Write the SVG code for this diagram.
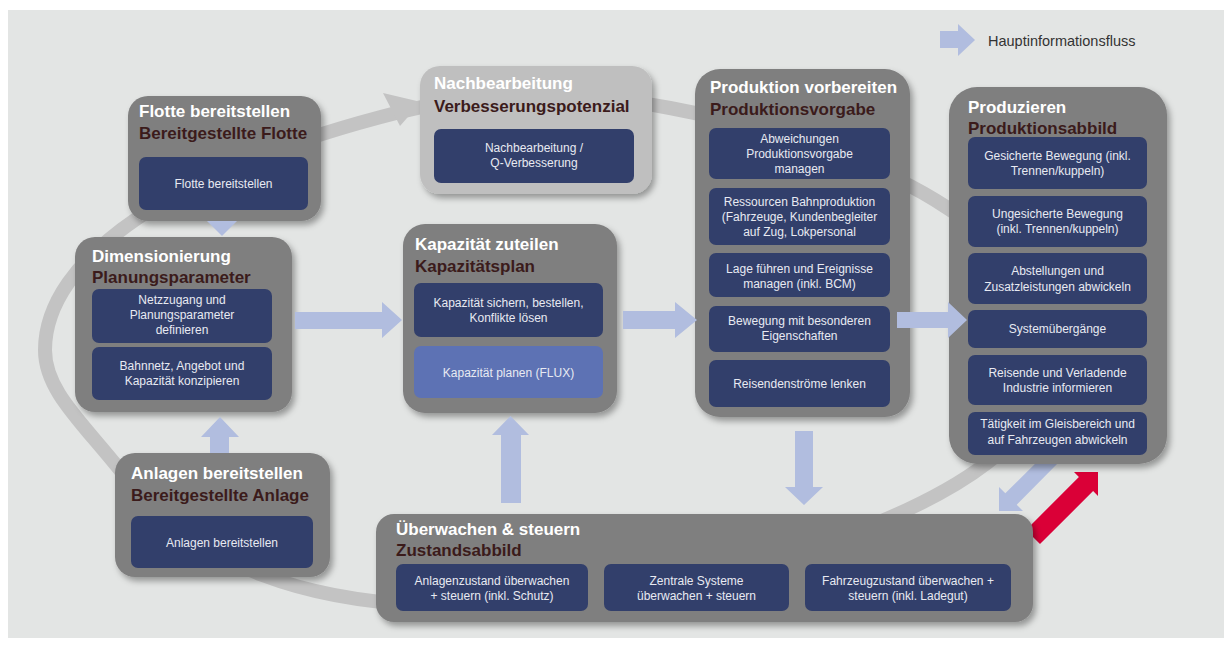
<svg xmlns="http://www.w3.org/2000/svg" width="1230" height="646" viewBox="0 0 1230 646">
<defs>
<filter id="sh" x="-10%" y="-10%" width="125%" height="130%">
<feDropShadow dx="3" dy="4" stdDeviation="3" flood-color="#000" flood-opacity="0.35"/>
</filter>
<style>
.ob{fill:#7f7f7f;filter:url(#sh)}
.lb{fill:#bfbfbf;filter:url(#sh)}
.ib{fill:#323f6b}
.ib2{fill:#5d72b4}
.h1{font-family:"Liberation Sans",Arial,sans-serif;font-weight:bold;font-size:17px;fill:#ffffff}
.h2{font-family:"Liberation Sans",Arial,sans-serif;font-weight:bold;font-size:17px;fill:#3b1b1b}
.t{font-family:"Liberation Sans",Arial,sans-serif;font-size:12px;fill:#e8eaf2;text-anchor:middle}
.la{fill:#b1bddf}
.ring{fill:none;stroke:#c3c3c3;stroke-width:14}
</style>
</defs>
<rect x="8" y="10" width="1216" height="628" fill="#e3e5e4"/>

<g id="connectors">
<path class="ring" d="M45,350 C45,260 170,170 400,112 C515,83 600,95 670,108 C760,125 870,160 935,200 C1060,275 1070,400 987,463 C880,545 620,615 420,605 C320,600 200,575 120,470 C80,420 45,390 45,350 Z"/>
<polygon points="383,93 421,102 400,126" fill="#c3c3c3"/>
<polygon class="la" points="999,511 999,487 1005.3,493.3 1048,451 1059,462 1016.7,504.7 1023,511"/>
<polygon fill="#da0037" points="1098,472 1074,472 1078.9,476.9 1026,530 1040,544 1093.1,491.1 1098,496"/>
</g>

<g id="flotte">
<rect class="ob" x="128" y="96" width="193" height="125" rx="20"/>
<text class="h1" x="139" y="117">Flotte bereitstellen</text>
<text class="h2" x="139" y="139">Bereitgestellte Flotte</text>
<rect class="ib" x="139" y="157" width="169" height="53" rx="7"/>
<text class="t" x="223.5" y="188">Flotte bereitstellen</text>
</g>

<g id="nachbearbeitung">
<rect class="lb" x="420" y="66" width="232" height="128" rx="20"/>
<text class="h1" x="434" y="89">Nachbearbeitung</text>
<text class="h2" x="434" y="112">Verbesserungspotenzial</text>
<rect class="ib" x="434" y="129" width="200" height="54" rx="7"/>
<text class="t" x="534" y="152">Nachbearbeitung  /</text>
<text class="t" x="534" y="167">Q-Verbesserung</text>
</g>

<g id="produktion-vorbereiten">
<rect class="ob" x="695" y="69" width="215" height="348" rx="25"/>
<text class="h1" x="710" y="93">Produktion vorbereiten</text>
<text class="h2" x="710" y="115">Produktionsvorgabe</text>
<rect class="ib" x="709" y="128" width="181" height="51" rx="7"/>
<text class="t" x="799.5" y="143">Abweichungen</text>
<text class="t" x="799.5" y="158">Produktionsvorgabe</text>
<text class="t" x="799.5" y="173">managen</text>
<rect class="ib" x="709" y="188" width="181" height="57" rx="7"/>
<text class="t" x="799.5" y="206">Ressourcen Bahnproduktion</text>
<text class="t" x="799.5" y="221">(Fahrzeuge, Kundenbegleiter</text>
<text class="t" x="799.5" y="236">auf Zug, Lokpersonal</text>
<rect class="ib" x="709" y="253" width="181" height="44" rx="7"/>
<text class="t" x="799.5" y="273">Lage führen und Ereignisse</text>
<text class="t" x="799.5" y="288">managen (inkl. BCM)</text>
<rect class="ib" x="709" y="306" width="181" height="46" rx="7"/>
<text class="t" x="799.5" y="325">Bewegung mit besonderen</text>
<text class="t" x="799.5" y="340">Eigenschaften</text>
<rect class="ib" x="709" y="360" width="181" height="47" rx="7"/>
<text class="t" x="799.5" y="388">Reisendenströme lenken</text>
</g>

<g id="produzieren">
<rect class="ob" x="949" y="87" width="218" height="377" rx="28"/>
<text class="h1" x="968" y="113">Produzieren</text>
<text class="h2" x="968" y="134">Produktionsabbild</text>
<rect class="ib" x="968" y="137" width="179" height="52" rx="7"/>
<text class="t" x="1057.5" y="160">Gesicherte Bewegung (inkl.</text>
<text class="t" x="1057.5" y="175">Trennen/kuppeln)</text>
<rect class="ib" x="968" y="196" width="179" height="51" rx="7"/>
<text class="t" x="1057.5" y="218">Ungesicherte Bewegung</text>
<text class="t" x="1057.5" y="233">(inkl. Trennen/kuppeln)</text>
<rect class="ib" x="968" y="253" width="179" height="51" rx="7"/>
<text class="t" x="1057.5" y="275">Abstellungen und</text>
<text class="t" x="1057.5" y="291">Zusatzleistungen abwickeln</text>
<rect class="ib" x="968" y="310" width="179" height="38" rx="7"/>
<text class="t" x="1057.5" y="333">Systemübergänge</text>
<rect class="ib" x="968" y="355" width="179" height="50" rx="7"/>
<text class="t" x="1057.5" y="377">Reisende und Verladende</text>
<text class="t" x="1057.5" y="392">Industrie informieren</text>
<rect class="ib" x="968" y="412" width="179" height="43" rx="7"/>
<text class="t" x="1057.5" y="428">Tätigkeit im Gleisbereich und</text>
<text class="t" x="1057.5" y="444">auf Fahrzeugen abwickeln</text>
</g>

<g id="dimensionierung">
<rect class="ob" x="75" y="237" width="217" height="175" rx="20"/>
<text class="h1" x="92" y="262">Dimensionierung</text>
<text class="h2" x="92" y="283">Planungsparameter</text>
<rect class="ib" x="92" y="289" width="180" height="54" rx="7"/>
<text class="t" x="182" y="304">Netzzugang und</text>
<text class="t" x="182" y="319">Planungsparameter</text>
<text class="t" x="182" y="334">definieren</text>
<rect class="ib" x="92" y="347" width="180" height="53" rx="7"/>
<text class="t" x="182" y="370">Bahnnetz, Angebot und</text>
<text class="t" x="182" y="385">Kapazität konzipieren</text>
</g>

<g id="kapazitaet">
<rect class="ob" x="403" y="224" width="214" height="189" rx="22"/>
<text class="h1" x="415" y="250">Kapazität zuteilen</text>
<text class="h2" x="415" y="272">Kapazitätsplan</text>
<rect class="ib" x="414" y="283" width="189" height="54" rx="7"/>
<text class="t" x="508.5" y="307">Kapazität sichern, bestellen,</text>
<text class="t" x="508.5" y="322">Konflikte lösen</text>
<rect class="ib2" x="414" y="346" width="189" height="52" rx="7"/>
<text class="t" x="508.5" y="377">Kapazität planen (FLUX)</text>
</g>

<g id="anlagen">
<rect class="ob" x="115" y="453" width="215" height="124" rx="20"/>
<text class="h1" x="131" y="479">Anlagen bereitstellen</text>
<text class="h2" x="131" y="501">Bereitgestellte Anlage</text>
<rect class="ib" x="131" y="516" width="182" height="52" rx="7"/>
<text class="t" x="222" y="547">Anlagen  bereitstellen</text>
</g>

<g id="ueberwachen">
<rect class="ob" x="376" y="514" width="657" height="108" rx="18"/>
<text class="h1" x="396" y="535">Überwachen &amp; steuern</text>
<text class="h2" x="396" y="556">Zustandsabbild</text>
<rect class="ib" x="396" y="564" width="192" height="47" rx="7"/>
<text class="t" x="492" y="585">Anlagenzustand überwachen</text>
<text class="t" x="492" y="600">+ steuern (inkl. Schutz)</text>
<rect class="ib" x="604" y="564" width="185" height="47" rx="7"/>
<text class="t" x="696.5" y="585">Zentrale Systeme</text>
<text class="t" x="696.5" y="600">überwachen  + steuern</text>
<rect class="ib" x="805" y="564" width="206" height="47" rx="7"/>
<text class="t" x="908" y="585">Fahrzeugzustand überwachen  +</text>
<text class="t" x="908" y="600">steuern (inkl. Ladegut)</text>
</g>

<g id="flow-arrows">
<polygon class="la" points="207,221 237,221 222,236"/>
<polygon class="la" points="295,312 382,312 382,302 402,320 382,338 382,329 295,329"/>
<polygon class="la" points="623,311 675,311 675,302 697,320 675,338 675,329 623,329"/>
<polygon class="la" points="897,312 948,312 948,302 967,320 948,338 948,328 897,328"/>
<polygon class="la" points="210,453 210,437 201,437 220,417 239,437 229,437 229,453"/>
<polygon class="la" points="501,503 501,435 492,435 510.5,416 529,435 521,435 521,503"/>
<polygon class="la" points="795,431 813,431 813,487 823,487 804,505 785,487 795,487"/>
</g>

<g id="legend">
<polygon class="la" points="940,31 958,31 958,24 975,40 958,56 958,48 940,48"/>
<text x="988" y="46" font-family="Liberation Sans,Arial,sans-serif" font-size="14.5" fill="#333333">Hauptinformationsfluss</text>
</g>
</svg>
